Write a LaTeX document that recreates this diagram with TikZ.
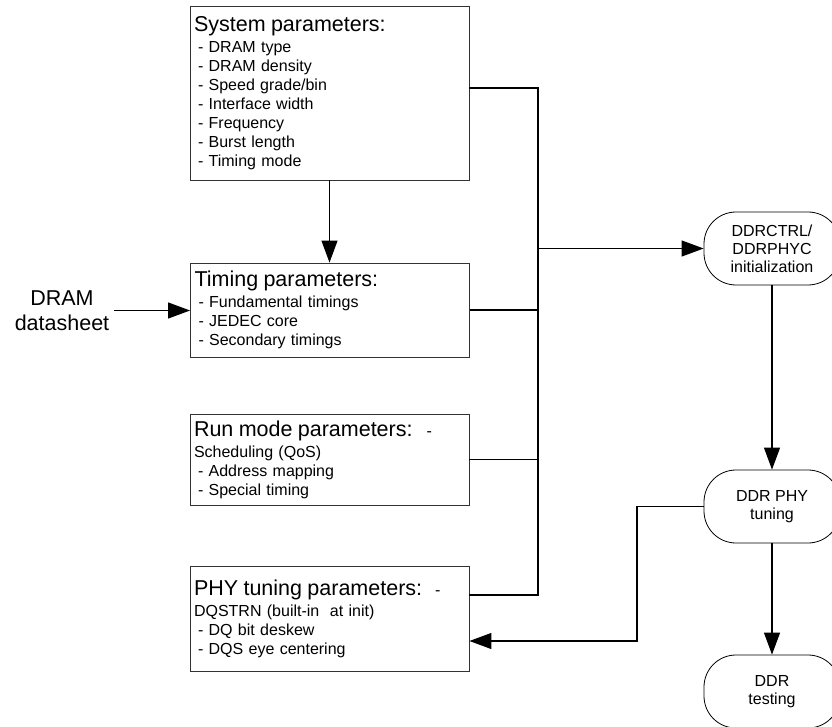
\documentclass[tikz,border=0pt]{standalone}
\usepackage{fontspec}
\setmainfont{Liberation Sans}
\usetikzlibrary{arrows.meta}

\newcommand\ttlfont{\fontsize{21.5}{24}\selectfont}
\newcommand\itemfont{\fontsize{16}{19}\selectfont}
\newcommand\ind{\hspace*{4pt}}

\begin{document}
\begin{tikzpicture}[x=1pt,y=-1pt,
  parambox/.style={draw=black!80, line width=0.9pt, align=left, text width=271pt,
    inner xsep=4pt, inner ysep=0pt, font=\itemfont},
  termnode/.style={draw=black, line width=0.8pt, rounded corners=32pt,
    minimum width=136pt, minimum height=73pt, align=center,
    font=\fontsize{16}{18}\selectfont, inner sep=0pt},
  conn/.style={draw=black, line width=1.2pt},
  arr/.style={conn, -{Triangle[length=22pt,width=16pt]}},
]
\useasboundingbox (0,0) rectangle (832,727);

% parameter boxes
\node[parambox, minimum height=174pt] (sys) at (329.5,93) {%
  {\ttlfont System parameters:}\\[2pt]
  \ind- DRAM type\\
  \ind- DRAM density\\
  \ind- Speed grade/bin\\
  \ind- Interface width\\
  \ind- Frequency\\
  \ind- Burst length\\
  \ind- Timing mode};

\node[parambox, minimum height=94pt] (tim) at (330,310) {%
  {\ttlfont Timing parameters:}\\[2pt]
  \ind- Fundamental timings\\
  \ind- JEDEC core\\
  \ind- Secondary timings};

\node[parambox, minimum height=91pt] (run) at (329.5,459.5) {%
  {\ttlfont Run mode parameters:}\hspace{14pt}-\\[2pt]
  Scheduling (QoS)\\
  \ind- Address mapping\\
  \ind- Special timing};

\node[parambox, minimum height=105pt] (phy) at (329.5,618.5) {%
  {\ttlfont PHY tuning parameters:}\hspace{13pt}-\\[2pt]
  DQSTRN (built-in\ \ at init)\\
  \ind- DQ bit deskew\\
  \ind- DQS eye centering};

% external input
\node[font=\fontsize{21.5}{25}\selectfont, align=center, inner sep=5pt] (dram)
  at (62,310.5) {DRAM\\datasheet};

% flow steps
\node[termnode] (init) at (772,248.5) {DDRCTRL/\\DDRPHYC\\initialization};
\node[termnode] (tune) at (772,506.5) {DDR PHY\\tuning};
\node[termnode] (test) at (772,691.5) {DDR\\testing};

% collecting bus
\coordinate (bustop) at (538,88);
\coordinate (busbot) at (538,595);
\draw[conn] (sys.east |- bustop) -- (bustop) -- (busbot) -- (busbot -| phy.east);
\draw[conn] (tim.east) -- (tim.east -| bustop);
\draw[conn] (run.east) -- (run.east -| bustop);
\draw[arr] (init.west -| bustop) -- (init.west);

% arrows
\draw[arr] (sys.south) -- (sys.south |- tim.north);
\draw[arr] (dram.east) -- (dram.east -| tim.west);
\draw[arr] (init.south) -- (tune.north);
\draw[arr] (tune.south) -- (test.north);

% feedback from PHY tuning
\coordinate (fb) at (637,641);
\draw[arr] (tune.west) -| (fb) -- (fb -| phy.east);
\end{tikzpicture}
\end{document}
